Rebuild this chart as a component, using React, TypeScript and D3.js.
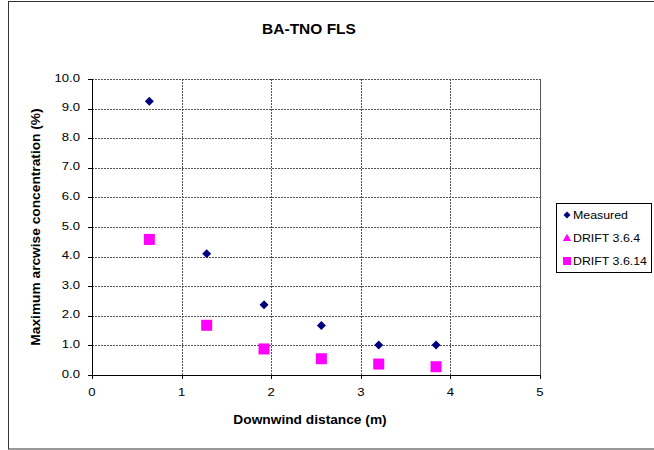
import React from "react";
import * as d3 from "d3";

const distances = [0.64, 1.28, 1.92, 2.56, 3.2, 3.84];
const measured = [9.25, 4.1, 2.37, 1.67, 1.01, 1.01];
const drift364: number[] = [];
const drift3614 = [4.58, 1.68, 0.88, 0.55, 0.37, 0.28];
const xTicks = [0, 1, 2, 3, 4, 5];
const yTicks = [0, 1, 2, 3, 4, 5, 6, 7, 8, 9, 10];
const seriesNames = ["Measured", "DRIFT 3.6.4", "DRIFT 3.6.14"];

const W = 654, H = 450;
const left = 92, right = 540, top = 79, bottom = 375;

const diamondPath = (r: number) => `M0,${-r}L${r},0L0,${r}L${-r},0Z`;

export default function App() {
  const x = d3.scaleLinear().domain([0, 5]).range([left, right]);
  const y = d3.scaleLinear().domain([0, 10]).range([bottom, top]);
  const font = "'Liberation Sans', Arial, sans-serif";
  const tri = d3.symbol().type(d3.symbolTriangle).size(30)();
  return (
    <svg width={W} height={H} style={{ position: "absolute", left: 0, top: 0 }} fontFamily={font}>
      <rect x={0} y={0} width={W} height={H} fill="#fff" />
      <rect x={8.5} y={1.5} width={W} height={447.5} fill="none" stroke="#333" strokeWidth={1} />
      <text transform="translate(309,34) scale(1,0.9)" textAnchor="middle" fontSize={15.5} fontWeight="bold">BA-TNO FLS</text>
      {yTicks.map((t) => (
        <g key={"y" + t}>
          {t > 0 && (
            <line x1={left} x2={right} y1={Math.round(y(t)) + 0.5} y2={Math.round(y(t)) + 0.5} stroke="#555" strokeDasharray="2,1" />
          )}
          <line x1={left - 4} x2={left} y1={Math.round(y(t)) + 0.5} y2={Math.round(y(t)) + 0.5} stroke="#000" />
          <text transform={`translate(${left - 12},${y(t) + 2.5}) scale(1.05,0.85)`} textAnchor="end" fontSize={12.5}>{t.toFixed(1)}</text>
        </g>
      ))}
      {xTicks.map((t) => (
        <g key={"x" + t}>
          {t > 0 && t < 5 && (
            <line x1={Math.round(x(t)) + 0.5} x2={Math.round(x(t)) + 0.5} y1={top} y2={bottom} stroke="#555" strokeDasharray="2,1" />
          )}
          <line x1={Math.round(x(t)) + 0.5} x2={Math.round(x(t)) + 0.5} y1={bottom} y2={bottom + 4} stroke="#000" />
          <text transform={`translate(${x(t)},${bottom + 21}) scale(1.05,0.85)`} textAnchor="middle" fontSize={12.5}>{t}</text>
        </g>
      ))}
      <line x1={Math.round(x(5)) + 0.5} x2={Math.round(x(5)) + 0.5} y1={top} y2={bottom} stroke="#555" />
      <line x1={left + 0.5} x2={left + 0.5} y1={top} y2={bottom} stroke="#000" />
      <line x1={left} x2={right} y1={bottom + 0.5} y2={bottom + 0.5} stroke="#000" />
      {drift3614.map((v, i) => (
        <rect key={"s" + i} x={x(distances[i]) - 5.5} y={y(v) - 5.5} width={11} height={11} fill="#ff00ff" />
      ))}
      {drift364.map((v, i) => (
        <path key={"t" + i} d={tri!} transform={`translate(${x(distances[i])},${y(v)})`} fill="#ff00ff" />
      ))}
      {measured.map((v, i) => (
        <path key={"m" + i} d={diamondPath(4.5)} transform={`translate(${x(distances[i])},${y(v)})`} fill="#000080" />
      ))}
      <text transform="translate(310,424) scale(1.1,0.95)" textAnchor="middle" fontSize={12.5} fontWeight="bold">Downwind distance (m)</text>
      <text transform={`translate(40,${(top + bottom) / 2}) rotate(-90) scale(1.1,0.95)`} textAnchor="middle" fontSize={12.5} fontWeight="bold">
        Maximum arcwise concentration (%)
      </text>
      <rect x={556.5} y={203.5} width={95} height={69} fill="#fff" stroke="#000" />
      {seriesNames.map((n, i) => {
        const ly = 215 + i * 23;
        return (
          <g key={n}>
            {i === 0 && <path d={diamondPath(3.5)} transform={`translate(567,${ly})`} fill="#000080" />}
            {i === 1 && <path d={tri!} transform={`translate(567,${ly + 0.5})`} fill="#ff00ff" />}
            {i === 2 && <rect x={563} y={ly - 4} width={8} height={8} fill="#ff00ff" />}
            <text transform={`translate(573,${ly + 4}) scale(1.05,0.92)`} fontSize={11.8}>{n}</text>
          </g>
        );
      })}
    </svg>
  );
}
